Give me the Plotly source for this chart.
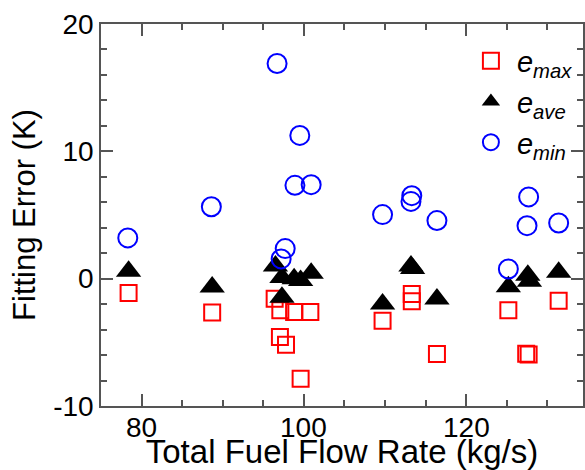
import plotly.graph_objects as go

# e_max (open red squares)
emax_x = [78.4, 88.7, 96.4, 97.1, 98.8, 100.8, 97.05, 97.8, 99.6, 109.7, 113.3, 113.3, 116.4, 125.2, 127.4, 127.7, 131.4]
emax_y = [-1.12, -2.65, -1.57, -2.49, -2.62, -2.62, -4.58, -5.18, -7.86, -3.3, -1.2, -1.78, -5.92, -2.49, -5.9, -5.95, -1.73]

# e_ave (filled black triangles)
eave_x = [78.4, 88.7, 96.5, 97.3, 98.8, 99.6, 100.9, 97.3, 109.7, 113.2, 113.4, 116.4, 125.2, 127.6, 127.8, 131.4]
eave_y = [0.59, -0.65, 1.0, 0.1, 0.0, -0.15, 0.43, -1.45, -1.99, 1.0, 0.8, -1.6, -0.63, 0.27, -0.2, 0.5]

# e_min (open blue circles)
emin_x = [78.3, 88.6, 96.7, 97.2, 97.7, 98.9, 99.5, 100.9, 109.7, 113.3, 113.2, 116.4, 125.2, 127.7, 127.5, 131.4]
emin_y = [3.2, 5.65, 16.9, 1.55, 2.36, 7.33, 11.25, 7.38, 5.03, 6.52, 6.07, 4.56, 0.76, 6.42, 4.16, 4.37]

x_ticks = [80, 100, 120]
x_ticklabels = ["80", "100", "120"]
y_ticks = [-10, 0, 10, 20]
y_ticklabels = ["-10", "0", "10", "20"]

FONT = "Liberation Sans, Arial, sans-serif"
AX = "#555555"
TICKSIZE = 28

fig = go.Figure()
fig.add_trace(go.Scatter(
    x=emax_x, y=emax_y, mode="markers", name="<i>e</i><sub><i>max</i></sub>",
    marker=dict(symbol="square-open", size=16, color="#ff0000", line=dict(width=2, color="#ff0000")),
))
fig.add_trace(go.Scatter(
    x=eave_x, y=eave_y, mode="markers", name="<i>e</i><sub><i>ave</i></sub>",
    marker=dict(symbol="triangle-up", size=22, color="#000000", line=dict(width=0)),
))
fig.add_trace(go.Scatter(
    x=emin_x, y=emin_y, mode="markers", name="<i>e</i><sub><i>min</i></sub>",
    marker=dict(symbol="circle-open", size=19, color="#0000ff", line=dict(width=2, color="#0000ff")),
))

axis_common = dict(
    showline=True, linecolor=AX, linewidth=1.5, mirror="allticks",
    ticks="inside", ticklen=12, tickwidth=1.5, tickcolor=AX,
    showgrid=False, zeroline=False,
    tickfont=dict(family=FONT, size=TICKSIZE, color="#000000"),
)

# x tick labels as text placed at the tick values (kept close to the axis like the reference)
for v, t in zip(x_ticks, x_ticklabels):
    fig.add_annotation(
        x=v, xref="x", y=0, yref="paper", yanchor="top", yshift=-4,
        text=t, showarrow=False, font=dict(family=FONT, size=TICKSIZE, color="#000000"),
    )

fig.update_layout(
    width=585, height=470,
    margin=dict(l=101, r=0, t=24, b=64),
    paper_bgcolor="white", plot_bgcolor="white",
    font=dict(family=FONT, color="#000000"),
    showlegend=True,
    legend=dict(
        x=0.755, y=0.97, xanchor="left", yanchor="top",
        bgcolor="rgba(0,0,0,0)", borderwidth=0,
        font=dict(family=FONT, size=29, color="#000000"),
        tracegroupgap=0, itemwidth=42,
    ),
    xaxis=dict(
        range=[75, 134.4], tickmode="array", tickvals=x_ticks, ticktext=x_ticklabels,
        showticklabels=False,
        minor=dict(dtick=5, tick0=0, ticks="inside", ticklen=6, tickwidth=1.5, tickcolor=AX),
        title=dict(text="Total Fuel Flow Rate (kg/s)", font=dict(family=FONT, size=33), standoff=39),
        **axis_common,
    ),
    yaxis=dict(
        range=[-10, 20], tickmode="array", tickvals=y_ticks, ticktext=y_ticklabels,
        minor=dict(dtick=2, tick0=0, ticks="inside", ticklen=6, tickwidth=1.5, tickcolor=AX),
        title=dict(text="Fitting Error (K)", font=dict(family=FONT, size=31), standoff=8),
        **axis_common,
    ),
)

fig.write_html("out.html")
